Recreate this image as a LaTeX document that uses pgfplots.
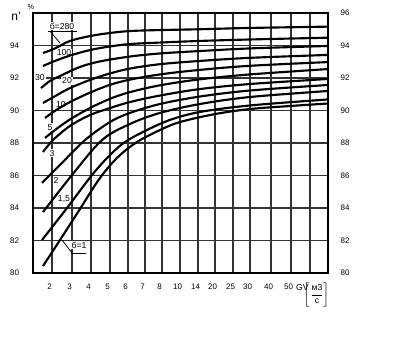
\documentclass[border=0pt]{standalone}
\usepackage{fontspec}
\setmainfont{Liberation Sans}
\usepackage{pgfplots}
\pgfplotsset{compat=1.18}
\tikzset{lbl/.style={font=\fontsize{6.5}{7}\selectfont, fill=white, inner sep=0.6pt}}
\begin{document}
\begin{tikzpicture}
\useasboundingbox (-24.75pt,-67.5pt) rectangle (272.25pt,204.75pt);
\begin{axis}[
  at={(0pt,0pt)}, anchor=south west,
  scale only axis, width=221.25pt, height=195pt,
  xmin=33, xmax=328, ymin=80, ymax=96,
  clip=false,
  xtick={52,72,91,110,128,145,162,180,198,215,233,250,271,291,310},
  xticklabels={2,3,4,5,6,7,8,10,14,20,25,30,40,50,{}},
  ytick={80,82,...,96},
  yticklabels={80,82,84,86,88,90,92,94,{}},
  grid=major,
  major grid style={black!80, line width=0.9pt},
  axis line style={black, line width=1pt},
  major tick length=0pt,
  tick label style={font=\fontsize{6}{7}\selectfont},
  xticklabel style={yshift=-5pt, xshift=-1.8pt},
  yticklabel style={xshift=-7pt},
  /pgf/number format/assume math mode=true,
  cycle list={{black, solid, no markers}},
  every axis plot post/.append style={black, solid, no markers, line width=1.6pt, smooth, tension=0.55},
]
% labels (white boxes break the grid lines, curves drawn above)
\node[font=\fontsize{9}{10}\selectfont] at (axis cs:16,95.82) {n'};
\node[font=\fontsize{5.5}{6}\selectfont] at (axis cs:31,96.37) {\%};
\node[lbl] at (axis cs:62,95.2) {б=280};
\node[lbl] at (axis cs:64,93.54) {100};
\node[lbl] at (axis cs:40,92.06) {30};
\node[lbl] at (axis cs:67,91.82) {20};
\node[lbl] at (axis cs:61,90.34) {10};
\node[lbl] at (axis cs:50,88.98) {5};
\node[lbl] at (axis cs:52,87.38) {3};
\node[lbl] at (axis cs:56,85.72) {2};
\node[lbl] at (axis cs:64,84.55) {1,5};
\node[lbl] at (axis cs:79,81.72) {б=1};
\draw[line width=0.6pt] (axis cs:48,94.89) -- (axis cs:77,94.89);
\draw[line width=0.6pt] (axis cs:50,94.89) -- (axis cs:60,94.15);
\draw[line width=0.6pt] (axis cs:72,81.23) -- (axis cs:86,81.23);
\draw[line width=0.6pt] (axis cs:72,81.23) -- (axis cs:62,82.03);
% right-hand scale
\node[font=\fontsize{6}{7}\selectfont] at (axis cs:345,96) {96};
\node[font=\fontsize{6}{7}\selectfont] at (axis cs:345,94) {94};
\node[font=\fontsize{6}{7}\selectfont] at (axis cs:345,92) {92};
\node[font=\fontsize{6}{7}\selectfont] at (axis cs:345,90) {90};
\node[font=\fontsize{6}{7}\selectfont] at (axis cs:345,88) {88};
\node[font=\fontsize{6}{7}\selectfont] at (axis cs:345,86) {86};
\node[font=\fontsize{6}{7}\selectfont] at (axis cs:345,84) {84};
\node[font=\fontsize{6}{7}\selectfont] at (axis cs:345,82) {82};
\node[font=\fontsize{6}{7}\selectfont] at (axis cs:345,80) {80};
% x-axis unit
\node[font=\fontsize{6.5}{7}\selectfont] at (axis cs:302.5,79.08) {GV};
\node[font=\fontsize{6.5}{7}\selectfont, inner sep=0pt] at (axis cs:317,78.65) {$\displaystyle\left[\frac{\hbox{м3}}{\hbox{с}}\right]$};
% curves
\addplot coordinates {(43,93.54) (55,93.82) (70,94.28) (90,94.58) (110,94.77) (130,94.89) (160,94.95) (200,95.00) (250,95.08) (328,95.16)};
\addplot coordinates {(43,92.74) (55,93.05) (70,93.38) (90,93.72) (110,93.94) (130,94.09) (160,94.18) (200,94.28) (250,94.37) (328,94.48)};
\addplot coordinates {(41,91.38) (50,91.82) (60,92.12) (80,92.68) (100,93.02) (130,93.32) (160,93.51) (200,93.66) (250,93.82) (328,93.97)};
\addplot coordinates {(43,90.46) (55,90.88) (70,91.38) (90,91.88) (110,92.28) (130,92.58) (160,92.85) (200,93.05) (250,93.24) (328,93.42)};
\addplot coordinates {(45,89.54) (55,89.98) (70,90.52) (90,91.10) (110,91.58) (130,91.90) (160,92.22) (200,92.50) (250,92.75) (328,92.98)};
\addplot coordinates {(45,88.31) (55,88.80) (70,89.45) (90,90.15) (110,90.72) (130,91.13) (160,91.55) (200,91.92) (250,92.22) (328,92.55)};
\addplot coordinates {(43,87.45) (53,88.18) (70,89.05) (90,89.72) (110,90.15) (130,90.52) (160,90.92) (200,91.32) (250,91.63) (328,91.94)};
\addplot coordinates {(42,85.54) (60,86.65) (85,88.18) (110,89.29) (130,89.85) (160,90.40) (200,90.86) (250,91.23) (328,91.57)};
\addplot coordinates {(43,83.75) (72,86.03) (102,88.18) (130,89.17) (160,89.85) (200,90.40) (250,90.83) (328,91.20)};
\addplot coordinates {(42,82.03) (67,84.00) (92,86.03) (110,87.26) (125,88.06) (145,88.74) (170,89.42) (200,89.91) (250,90.31) (328,90.68)};
\addplot coordinates {(43,80.43) (60,82.03) (80,83.94) (100,85.85) (118,87.14) (137,88.06) (160,88.80) (180,89.29) (215,89.78) (250,90.09) (291,90.28) (328,90.43)};
\end{axis}
\end{tikzpicture}
\end{document}
